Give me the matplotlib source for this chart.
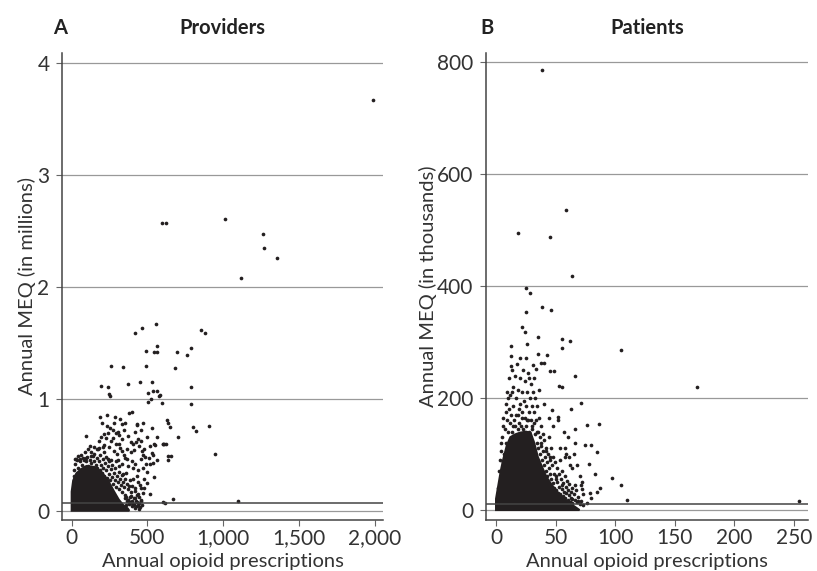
import matplotlib
matplotlib.use("Agg")
import matplotlib.pyplot as plt

plt.rcParams['font.family'] = ['Lato', 'DejaVu Sans']

# ---- Panel A: providers (x = annual prescriptions, y = MEQ in millions)
# outline of the solid black core of the cloud
prov_core_x = [0, 0, 10, 30, 60, 100, 150, 200, 240, 280, 310, 340, 370, 380, 0]
prov_core_y = [0, 0.17, 0.27, 0.33, 0.37, 0.40, 0.39, 0.34, 0.27, 0.17, 0.10, 0.05, 0.02, 0, 0]

# isolated providers
prov_pts = [
    (1990, 3.667), (598, 2.571), (621, 2.571), (1015, 2.604), (1264, 2.473), (1270, 2.346),
    (1358, 2.259), (1120, 2.075),
    (555, 1.664), (466, 1.634), (420, 1.584), (854, 1.613), (881, 1.590), (566, 1.474),
    (489, 1.429), (546, 1.417), (561, 1.420), (693, 1.417), (786, 1.45), (760, 1.388),
    (258, 1.295), (341, 1.28), (489, 1.292), (680, 1.277), (196, 1.116), (238, 1.107),
    (372, 1.134), (451, 1.152), (528, 1.146), (788, 1.104),
    (506, 1.048), (539, 1.069), (561, 1.069), (575, 1.02), (580, 1.03), (522, 0.997),
    (506, 0.968), (598, 0.964), (788, 0.952), (246, 1.039), (255, 1.021),
    (396, 0.878), (381, 0.87), (187, 0.834), (235, 0.854), (286, 0.84), (627, 0.81),
    (634, 0.78), (649, 0.75), (469, 0.78), (429, 0.762), (803, 0.75), (821, 0.714),
    (905, 0.759), (528, 0.741), (702, 0.655), (561, 0.661), (601, 0.596), (612, 0.596),
    (544, 0.593), (947, 0.509), (636, 0.491), (654, 0.491), (636, 0.453),
    (94, 0.664), (198, 0.78), (231, 0.759), (330, 0.77), (354, 0.78), (433, 0.77),
    (215, 0.682), (308, 0.705), (314, 0.676), (275, 0.646), (334, 0.637), (390, 0.616),
    (440, 0.64), (460, 0.62), (425, 0.61), (403, 0.60), (605, 0.60), (621, 0.60),
    (550, 0.587), (466, 0.53), (472, 0.50), (482, 0.48), (513, 0.473), (535, 0.429),
    (528, 0.512),
    (605, 0.078), (616, 0.07), (669, 0.104), (1096, 0.089), (372, 0.10), (385, 0.12),
    (400, 0.09), (415, 0.11), (430, 0.08), (451, 0.036), (440, 0.05), (410, 0.06), (395, 0.04),
]

# the speckled band around the core
prov_cloud = [
    (12, 0.31), (18, 0.36), (25, 0.42), (33, 0.34), (38, 0.45), (44, 0.38), (52, 0.31),
    (58, 0.44), (63, 0.35), (70, 0.41), (76, 0.47), (83, 0.33), (88, 0.39), (93, 0.44),
    (99, 0.36), (104, 0.48), (109, 0.40), (114, 0.33), (119, 0.45), (124, 0.38), (129, 0.43),
    (134, 0.31), (139, 0.49), (144, 0.37), (149, 0.44), (154, 0.34), (159, 0.41), (164, 0.47),
    (169, 0.38), (174, 0.32), (179, 0.44), (184, 0.36), (189, 0.50), (194, 0.41), (199, 0.34),
    (204, 0.46), (209, 0.38), (214, 0.31), (219, 0.43), (224, 0.36), (229, 0.48), (234, 0.29),
    (239, 0.40), (244, 0.33), (249, 0.44), (254, 0.27), (259, 0.37), (264, 0.30), (269, 0.41),
    (274, 0.24), (279, 0.34), (284, 0.27), (289, 0.38), (294, 0.21), (299, 0.31), (304, 0.26),
    (309, 0.35), (314, 0.19), (319, 0.28), (324, 0.23), (329, 0.32), (334, 0.17), (339, 0.26),
    (344, 0.21), (349, 0.14), (354, 0.28), (359, 0.12), (364, 0.24), (369, 0.19), (374, 0.10),
    (379, 0.22), (384, 0.08), (389, 0.17), (394, 0.13), (399, 0.07), (404, 0.28), (409, 0.11),
    (414, 0.05), (419, 0.20), (424, 0.09), (429, 0.31), (434, 0.04), (439, 0.15), (444, 0.07),
    (449, 0.23), (458, 0.10), (465, 0.05), (475, 0.28), (490, 0.42), (500, 0.35), (480, 0.55),
    (455, 0.46), (445, 0.58), (410, 0.54), (395, 0.44), (375, 0.40), (365, 0.55), (350, 0.47),
    (335, 0.42), (320, 0.56), (305, 0.45), (290, 0.60), (276, 0.53), (262, 0.62), (248, 0.57),
    (228, 0.65), (212, 0.59), (196, 0.66), (172, 0.55), (146, 0.57), (130, 0.52), (110, 0.55),
    (85, 0.52), (60, 0.50), (40, 0.49), (22, 0.46), (250, 0.74), (282, 0.78), (318, 0.82),
    (345, 0.72), (372, 0.67), (418, 0.70), (455, 0.72), (495, 0.66), (520, 0.58), (540, 0.50),
    (565, 0.45), (520, 0.42), (500, 0.25), (520, 0.15), (545, 0.30), (480, 0.20),
    (30, 0.46), (55, 0.46), (80, 0.45), (95, 0.47), (125, 0.49), (150, 0.51), (165, 0.55),
    (180, 0.56), (205, 0.57), (215, 0.52), (240, 0.46), (262, 0.45), (290, 0.44), (312, 0.40),
    (340, 0.33), (360, 0.34), (385, 0.27), (405, 0.38), (420, 0.42), (440, 0.36), (470, 0.38),
    (300, 0.51), (330, 0.53), (345, 0.50), (368, 0.46), (392, 0.52), (310, 0.60), (270, 0.72),
    (240, 0.69), (290, 0.69), (120, 0.58), (180, 0.62), (350, 0.11), (365, 0.09), (380, 0.06),
    (400, 0.22), (415, 0.18), (430, 0.14), (445, 0.12), (460, 0.09), (438, 0.26), (455, 0.20),
    (470, 0.16), (360, 0.05), (340, 0.04), (320, 0.03), (420, 0.025), (445, 0.015),
]
prov_ref = 0.068

# ---- Panel B: patients (x = annual prescriptions, y = MEQ in thousands)
pat_core_x = [0, 0, 2, 4, 6, 9, 12, 16, 20, 25, 29, 32, 35, 38, 42, 47, 53, 60, 66, 70, 0]
pat_core_y = [0, 20, 45, 70, 90, 115, 130, 135, 138, 140, 138, 120, 95, 80, 60, 44, 28, 15, 6, 0, 0]

pat_pts = [
    (38.2, 786), (18.1, 495), (58.3, 535), (45.5, 487), (63.3, 417), (25.4, 397), (28.1, 388),
    (25.1, 354), (38.2, 363), (46.3, 357), (22, 327), (24, 317), (35.2, 309), (55, 305),
    (62.2, 302), (55, 289), (104.4, 286), (12.8, 293), (26, 296), (12.8, 275), (20.4, 272),
    (25.4, 271), (35.2, 279), (43, 276), (12.8, 258), (31, 259), (38, 263), (40, 262),
    (33.8, 252), (45, 248), (49, 248), (66.2, 240), (27.3, 236), (168.6, 220), (53, 221),
    (55.5, 220), (13, 211), (71.4, 191), (63, 181), (46.9, 178), (52, 166), (76.2, 151),
    (86.5, 154), (66.2, 145), (74.2, 116), (79.6, 116), (84.3, 104), (78.1, 82), (83.2, 65),
    (97.1, 58), (105.2, 44), (71.4, 44), (71.7, 37), (78.6, 31), (86.8, 39), (85, 32),
    (110, 18), (253.8, 17), (64, 20), (68.5, 17), (70, 10), (73, 9),
]

pat_cloud = [
    (2, 40), (2.5, 70), (3, 90), (4, 105), (5, 130), (5.5, 85), (6, 165), (7, 100), (7.5, 145),
    (8, 190), (8.5, 120), (9, 160), (9.5, 210), (10, 140), (10.5, 180), (11, 235), (11.5, 155),
    (12, 205), (12.5, 170), (13, 250), (13.5, 140), (14, 220), (14.5, 185), (15, 160),
    (15.5, 240), (16, 150), (16.5, 200), (17, 170), (17.5, 260), (18, 145), (18.5, 215),
    (19, 180), (19.5, 155), (20, 235), (20.5, 190), (21, 150), (21.5, 210), (22, 175),
    (22.5, 250), (23, 145), (23.5, 195), (24, 165), (24.5, 230), (25, 150), (25.5, 185),
    (26, 210), (26.5, 160), (27, 245), (27.5, 175), (28, 140), (28.5, 200), (29, 160),
    (29.5, 225), (30, 145), (30.5, 185), (31, 210), (31.5, 155), (32, 175), (32.5, 135),
    (33, 200), (33.5, 160), (34, 120), (34.5, 185), (35, 140), (35.5, 110), (36, 165),
    (36.5, 130), (37, 100), (37.5, 150), (38, 115), (38.5, 90), (39, 135), (39.5, 105),
    (40, 80), (40.5, 125), (41, 95), (41.5, 70), (42, 110), (42.5, 85), (43, 60), (43.5, 100),
    (44, 75), (44.5, 130), (45, 65), (45.5, 95), (46, 55), (46.5, 110), (47, 80), (47.5, 48),
    (48, 95), (48.5, 65), (49, 40), (49.5, 85), (50, 55), (50.5, 35), (51, 75), (51.5, 50),
    (52, 30), (52.5, 65), (53, 42), (53.5, 90), (54, 28), (54.5, 55), (55, 38), (55.5, 70),
    (56, 25), (56.5, 48), (57, 33), (57.5, 60), (58, 22), (58.5, 42), (59, 30), (59.5, 52),
    (60, 18), (60.5, 36), (61, 26), (61.5, 46), (62, 14), (62.5, 32), (63, 22), (63.5, 40),
    (64, 12), (65, 28), (66, 18), (67, 35), (68, 14), (69, 24), (71, 16), (73, 28), (76, 12),
    (80, 22), (58, 110), (61, 95), (64, 75), (60, 130), (48, 150), (44, 165), (40, 190),
    (36, 215), (32, 235), (57, 140), (52, 160), (65, 100), (66, 120), (68, 80), (70, 60),
    (72, 50), (10, 200), (8, 175), (6, 150), (4, 120), (14, 150), (18, 170), (22, 165),
    (26, 160), (30, 150), (34, 140), (38, 120), (42, 105), (45, 90), (50, 60), (55, 45),
    (62, 80), (58, 95), (54, 110), (59, 100), (66, 45), (62, 15), (55, 18), (50, 25), (46, 40),
]
pat_ref = 10.7

prov_yticks = [0, 1, 2, 3, 4]
prov_xticks = [0, 500, 1000, 1500, 2000]
prov_xlabels = ['0', '500', '1,000', '1,500', '2,000']
pat_yticks = [0, 200, 400, 600, 800]
pat_xticks = [0, 50, 100, 150, 200, 250]
pat_xlabels = ['0', '50', '100', '150', '200', '250']

DOT = '#231f20'
TXT = '#333333'
GRID = '#999999'

fig = plt.figure(figsize=(8.17, 5.71), dpi=100)


def style(ax, yticks, xticks, xlabels, ylabel, ylabelpad):
    ax.set_yticks(yticks)
    ax.set_xticks(xticks)
    ax.set_xticklabels(xlabels)
    ax.grid(axis='y', color=GRID, linewidth=0.9)
    ax.set_axisbelow(True)
    for s in ['top', 'right']:
        ax.spines[s].set_visible(False)
    for s in ['left', 'bottom']:
        ax.spines[s].set_color('#444444')
        ax.spines[s].set_linewidth(1.1)
    ax.tick_params(axis='both', direction='out', length=4, width=0.8,
                   color='#666666', labelsize=15, labelcolor=TXT)
    ax.tick_params(axis='x', pad=2)
    ax.tick_params(axis='y', pad=5)
    ax.set_xlabel('Annual opioid prescriptions', fontsize=14.5, color=TXT, labelpad=3)
    ax.set_ylabel(ylabel, fontsize=14.5, color=TXT, labelpad=ylabelpad)


def draw_panel(ax, core_x, core_y, pts, cloud, ref):
    ax.fill(core_x, core_y, color=DOT, linewidth=1.5, zorder=2)
    px = [p[0] for p in pts + cloud]
    py = [p[1] for p in pts + cloud]
    ax.scatter(px, py, s=7, color=DOT, linewidths=0, zorder=3)
    ax.axhline(ref, color='#444444', linewidth=1.1, zorder=4)


# Panel A
ax1 = fig.add_axes([0.0759, 0.0893, 0.393, 0.818])
draw_panel(ax1, prov_core_x, prov_core_y, prov_pts, prov_cloud, prov_ref)
ax1.set_xlim(-64, 2056)
ax1.set_ylim(-0.083, 4.087)
style(ax1, prov_yticks, prov_xticks, prov_xlabels, 'Annual MEQ (in millions)', 1)
ax1.text(0.5, 1.04, 'Providers', transform=ax1.transAxes, ha='center', va='baseline',
         fontsize=14.5, fontweight='bold', color='#222222')
ax1.text(-0.028, 1.04, 'A', transform=ax1.transAxes, ha='left', va='baseline',
         fontsize=14.5, fontweight='bold', color='#222222')

# Panel B
ax2 = fig.add_axes([0.5949, 0.0893, 0.394, 0.818])
draw_panel(ax2, pat_core_x, pat_core_y, pat_pts, pat_cloud, pat_ref)
ax2.set_xlim(-8.4, 261.6)
ax2.set_ylim(-17.8, 816)
style(ax2, pat_yticks, pat_xticks, pat_xlabels, 'Annual MEQ (in thousands)', 0)
ax2.text(0.5, 1.04, 'Patients', transform=ax2.transAxes, ha='center', va='baseline',
         fontsize=14.5, fontweight='bold', color='#222222')
ax2.text(-0.019, 1.04, 'B', transform=ax2.transAxes, ha='left', va='baseline',
         fontsize=14.5, fontweight='bold', color='#222222')

fig.savefig('out.png', dpi=100)
